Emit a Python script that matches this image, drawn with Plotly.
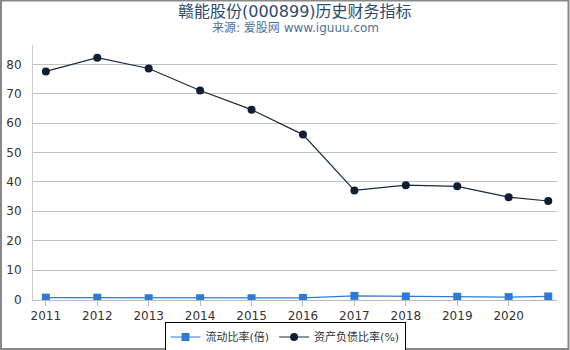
import plotly.graph_objects as go

years = [2011, 2012, 2013, 2014, 2015, 2016, 2017, 2018, 2019, 2020, 2020.77]
tick_vals = [2011, 2012, 2013, 2014, 2015, 2016, 2017, 2018, 2019, 2020]
tick_text = ["2011", "2012", "2013", "2014", "2015", "2016", "2017", "2018", "2019", "2020"]
current_ratio = [0.6, 0.6, 0.4, 0.4, 0.4, 0.5, 1.2, 1.0, 0.9, 0.8, 1.0]
debt_ratio = [77.6, 82.3, 78.6, 71.1, 64.6, 56.1, 37.1, 38.9, 38.5, 34.8, 33.5]

W, H = 570, 350
ML, MR, MT, MB = 33, 13, 45, 50
pw, ph = W - ML - MR, H - MT - MB

fig = go.Figure()
fig.add_trace(go.Scatter(
    x=years, y=current_ratio, name="流动比率(倍)", mode="lines+markers",
    line=dict(color="#2e7bd6", width=1.2),
    marker=dict(symbol="square", size=8, color="#2e7bd6"),
))
fig.add_trace(go.Scatter(
    x=years, y=debt_ratio, name="资产负债比率(%)", mode="lines+markers",
    line=dict(color="#1a2a3e", width=1.2),
    marker=dict(symbol="circle", size=8, color="#0f1f33"),
))

fig.update_layout(
    width=W, height=H,
    margin=dict(l=ML, r=MR, t=MT, b=MB, autoexpand=False),
    paper_bgcolor="white", plot_bgcolor="white",
    font=dict(family="DejaVu Sans, Noto Sans CJK SC", size=12, color="#333"),
    showlegend=True,
    legend=dict(
        orientation="h", x=0.5, xanchor="center", xref="container",
        y=1 - 337 / H, yanchor="middle", yref="container",
        bordercolor="#000", borderwidth=1, font=dict(size=11, color="#333"),
        itemwidth=30, tracegroupgap=0,
    ),
    annotations=[
        dict(text="赣能股份(000899)历史财务指标", x=0.5, xref="paper",
             y=(H - 11 - MB) / ph, yref="paper", yanchor="middle",
             showarrow=False, font=dict(size=16, color="#2b4a6e")),
        dict(text="来源: 爱股网 www.iguuu.com", x=0.5, xref="paper",
             y=(H - 28 - MB) / ph, yref="paper", yanchor="middle",
             showarrow=False, font=dict(size=12, color="#4d71a0")),
    ],
)

fig.update_xaxes(
    range=[2010.75, 2020.94], tickvals=tick_vals, ticktext=tick_text,
    showgrid=False, showline=True, linecolor="#bbb", linewidth=1,
    ticks="outside", ticklen=5, tickcolor="#bbb", tickfont=dict(size=12, color="#333"),
    zeroline=False,
)
fig.update_yaxes(
    range=[-0.2, 86.6], tickvals=[0, 10, 20, 30, 40, 50, 60, 70, 80],
    showgrid=True, gridcolor="#c0c0c0", gridwidth=1,
    showline=True, linecolor="#ccc", linewidth=1,
    zeroline=False, tickfont=dict(size=12, color="#333"), ticks="", ticklabelstandoff=8,
)

# outer frame
fig.add_shape(type="rect", xref="paper", yref="paper",
              x0=(-ML + 1) / pw, x1=1 + (MR - 1.5) / pw,
              y0=(-MB + 1) / ph, y1=1 + (MT - 0.5) / ph,
              line=dict(color="#888", width=2), layer="below")

fig.write_html("out.html")
